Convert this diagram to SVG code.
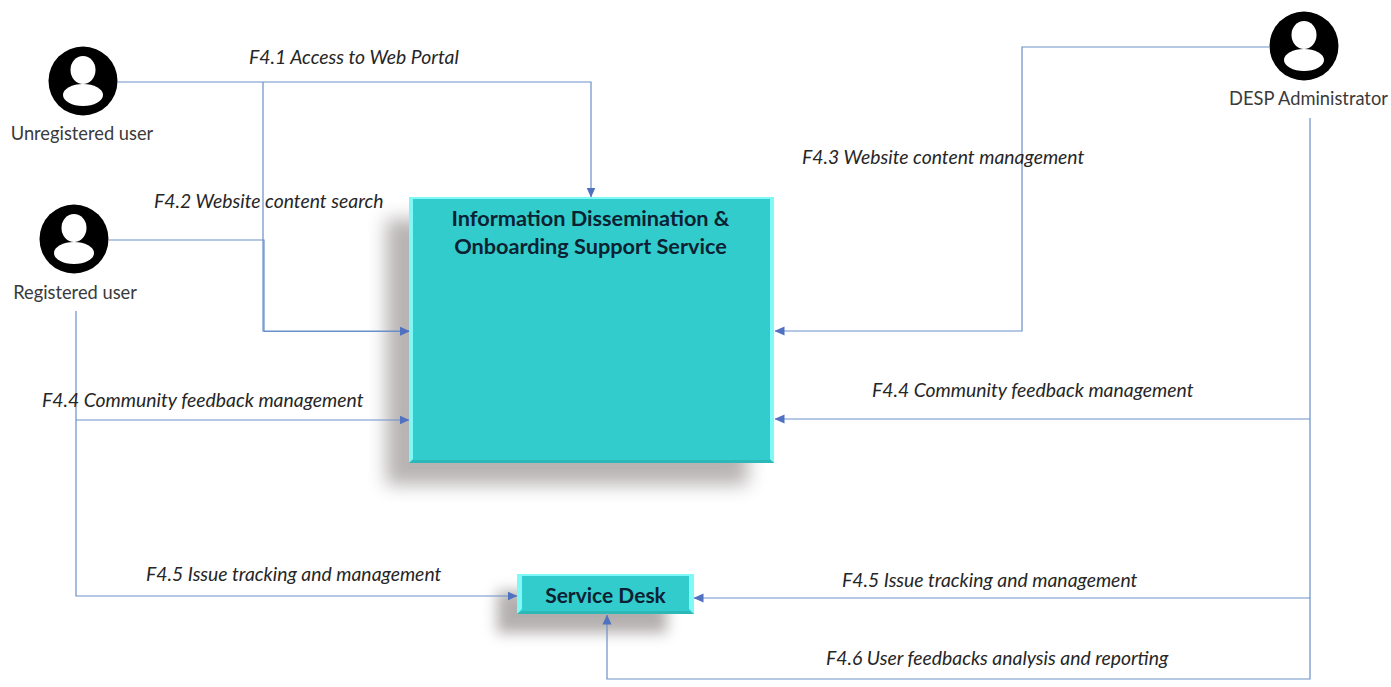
<svg xmlns="http://www.w3.org/2000/svg" width="1391" height="687" viewBox="0 0 1391 687">
<style>
.c{fill:none;stroke:#6a8fc8;stroke-width:1.2}
.l{font-family:"Lato","Open Sans",sans-serif;font-size:19.350px;font-style:italic;fill:#262626}
.a{font-family:"Lato","Open Sans",sans-serif;font-size:18.300px;fill:#3a3a3a;text-anchor:middle}
.t{font-family:"Lato","Open Sans",sans-serif;font-size:21.700px;font-weight:700;fill:#0c2233;text-anchor:middle}
.box{fill:#33cccc}
.hi{fill:#7ff8f8}
.lo{fill:#2db8b8}
</style>
<defs>
<filter id="blur" x="-30%" y="-30%" width="160%" height="160%"><feGaussianBlur stdDeviation="9"/></filter>
<filter id="blur2" x="-30%" y="-60%" width="160%" height="220%"><feGaussianBlur stdDeviation="7"/></filter>
<marker id="ah" markerWidth="10" markerHeight="10" refX="9.500" refY="5" orient="auto" markerUnits="userSpaceOnUse"><path d="M0 0.500L10 5L0 9.500Z" fill="#4f71c0"/></marker>
<symbol id="user" viewBox="0 0 70 70" overflow="visible">
<circle cx="35" cy="35" r="34.500" fill="#000"/>
<ellipse cx="35" cy="24" rx="12.500" ry="14" fill="#fff"/>
<ellipse cx="35" cy="49" rx="20" ry="11" fill="#fff"/>
</symbol>
</defs>
<rect width="1391" height="687" fill="#fff"/>
<g id="unregistered-user">
<use href="#user" x="48" y="46" width="70" height="70"/>
<text class="a" x="82" y="140">Unregistered user</text>
</g>
<g id="registered-user">
<use href="#user" x="39" y="204" width="70" height="70"/>
<text class="a" x="75" y="299">Registered user</text>
</g>
<g id="desp-administrator">
<use href="#user" x="1269" y="11" width="70" height="70"/>
<text class="a" x="1308.500" y="105">DESP Administrator</text>
</g>
<g id="information-dissemination">
<rect x="386" y="219" width="362" height="266" fill="#6a6060" opacity=".47" filter="url(#blur)"/>
<rect class="box" x="409" y="197" width="365" height="266"/>
<path class="hi" d="M409 197H774V463L770 459V199H413V459L409 463Z"/>
<path class="lo" d="M409 463H774L770 460H413Z"/>
<text class="t"><tspan x="590.500" y="226">Information Dissemination &amp;</tspan><tspan x="590.500" y="254">Onboarding Support Service</tspan></text>
</g>
<g id="service-desk">
<rect x="497" y="591" width="170" height="42" fill="#6a6060" opacity=".5" filter="url(#blur2)"/>
<rect class="box" x="517" y="574" width="177" height="40"/>
<path class="hi" d="M517 574H694V614L689 609V576H522V609L517 614Z"/>
<path class="lo" d="M517 614H694L689 611H522Z"/>
<text class="t" style="font-size:21px" x="605.500" y="602.500">Service Desk</text>
</g>
<g id="connectors">
<path class="c" d="M117 82H591V197" marker-end="url(#ah)"/>
<path class="c" d="M263 82V331H409" marker-end="url(#ah)"/>
<path class="c" d="M109 240H264V331.500H409" marker-end="url(#ah)"/>
<path class="c" d="M1269 47H1022V331H775" marker-end="url(#ah)"/>
<path class="c" d="M76 311V596H517" marker-end="url(#ah)"/>
<path class="c" d="M76 420H409" marker-end="url(#ah)"/>
<path class="c" d="M1310 118V679H607V615" marker-end="url(#ah)"/>
<path class="c" d="M1310 419H775" marker-end="url(#ah)"/>
<path class="c" d="M1310 598H694" marker-end="url(#ah)"/>
</g>
<g id="labels">
<text class="l" x="249" y="64">F4.1 Access to Web Portal</text>
<text class="l" x="154" y="208">F4.2 Website content search</text>
<text class="l" x="802" y="164">F4.3 Website content management</text>
<text class="l" x="42" y="406.500">F4.4 Community feedback management</text>
<text class="l" x="872" y="397">F4.4 Community feedback management</text>
<text class="l" x="146" y="581">F4.5 Issue tracking and management</text>
<text class="l" x="842" y="587">F4.5 Issue tracking and management</text>
<text class="l" x="826" y="664.500">F4.6 User feedbacks analysis and reporting</text>
</g>
</svg>
